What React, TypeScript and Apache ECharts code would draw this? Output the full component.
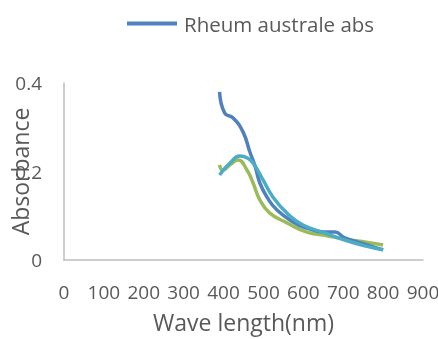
import React, { useEffect, useRef } from "react";
import * as echarts from "echarts";

const xTicks = [0, 100, 200, 300, 400, 500, 600, 700, 800, 900];
const yTicks = [0, 0.2, 0.4];

const blueX = [390, 403, 424, 449, 466, 479, 491, 509, 534, 574, 609, 654, 679, 704, 754, 800];
const blueY = [0.38, 0.332, 0.321, 0.289, 0.244, 0.212, 0.174, 0.142, 0.113, 0.086, 0.072, 0.063, 0.063, 0.05, 0.036, 0.023];

const cyanX = [390, 416, 441, 461, 474, 499, 524, 559, 599, 654, 704, 754, 800];
const cyanY = [0.192, 0.219, 0.235, 0.23, 0.219, 0.181, 0.142, 0.106, 0.079, 0.061, 0.045, 0.032, 0.023];

const greenX = [390, 398, 416, 436, 459, 474, 491, 516, 559, 609, 654, 704, 754, 800];
const greenY = [0.215, 0.203, 0.215, 0.226, 0.203, 0.174, 0.136, 0.106, 0.084, 0.063, 0.056, 0.047, 0.041, 0.034];

const zip = (xs: number[], ys: number[]) => xs.map((x, i) => [x, ys[i]]);

const FONT = "'Open Sans', sans-serif";
const TXT = "#595959";

export default function App() {
  const ref = useRef<HTMLDivElement>(null);
  useEffect(() => {
    const chart = echarts.init(ref.current!, null, { renderer: "svg" });
    const mkLine = (name: string, data: number[][], color: string, z: number) => ({
      name,
      type: "line",
      data,
      smooth: true,
      showSymbol: false,
      symbol: "none",
      z,
      lineStyle: { color, width: 3.5 },
      itemStyle: { color },
    });
    chart.setOption({
      animation: false,
      textStyle: { fontFamily: FONT },
      legend: {
        data: ["Rheum australe abs"],
        left: 127,
        top: 13,
        padding: 0,
        icon: "rect",
        itemWidth: 50,
        itemHeight: 4,
        itemGap: 10,
        textStyle: { color: TXT, fontSize: 20.5, fontFamily: FONT, padding: [0, 0, 0, 2] },
      },
      grid: {
        left: 64,
        right: 15,
        top: 83,
        bottom: 79,
        containLabel: false,
        outerBoundsMode: "none",
      },
      xAxis: {
        type: "value",
        min: xTicks[0],
        max: xTicks[xTicks.length - 1],
        interval: 100,
        name: "Wave length(nm)",
        nameLocation: "middle",
        nameGap: 50,
        nameMoveOverlap: false,
        nameTextStyle: { color: TXT, fontSize: 23, fontFamily: FONT },
        axisLine: { show: true, lineStyle: { color: "#bfbfbf", width: 1.5 } },
        axisTick: { show: false },
        splitLine: { show: false },
        axisLabel: { color: TXT, fontSize: 19, margin: 22, fontFamily: FONT },
      },
      yAxis: {
        type: "value",
        min: yTicks[0],
        max: yTicks[yTicks.length - 1],
        interval: 0.2,
        name: "Absorbance",
        nameLocation: "middle",
        nameGap: 33,
        nameRotate: 90,
        nameMoveOverlap: false,
        nameTextStyle: { color: TXT, fontSize: 23, fontFamily: FONT },
        axisLine: { show: true, lineStyle: { color: "#bfbfbf", width: 1.5 } },
        axisTick: { show: false },
        splitLine: { show: false },
        axisLabel: { color: TXT, fontSize: 19, margin: 22, fontFamily: FONT },
      },
      series: [
        mkLine("green", zip(greenX, greenY), "#9bbb59", 2),
        mkLine("Rheum australe abs", zip(blueX, blueY), "#4f81bd", 3),
        mkLine("cyan", zip(cyanX, cyanY), "#4bacc6", 4),
      ],
    });
    return () => chart.dispose();
  }, []);
  return (
    <div
      ref={ref}
      style={{ position: "fixed", left: 0, top: 0, width: 438, height: 339 }}
    />
  );
}
